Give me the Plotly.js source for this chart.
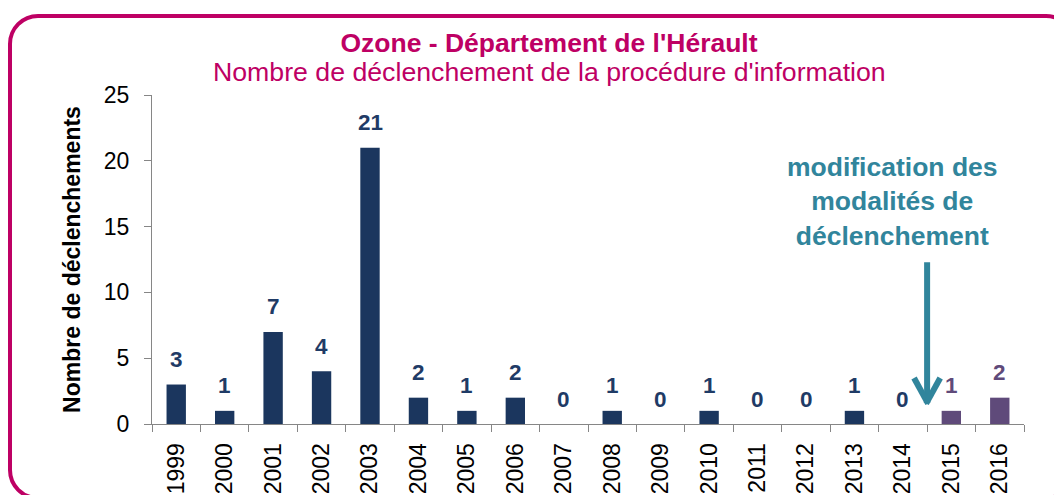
<!DOCTYPE html>
<html>
<head>
<meta charset="utf-8">
<script src="https://cdn.plot.ly/plotly-3.0.1.min.js"></script>
<style>
  html, body { margin:0; padding:0; background:#fff; overflow:hidden; }
  #wrap { position:relative; width:1054px; height:495px; overflow:hidden; }
  #chart { position:absolute; left:0; top:0; width:1054px; height:495px; }
  #frame { position:absolute; left:8px; top:14px; width:1060px; height:478px;
           border:4px solid #BE0064; border-radius:30px; pointer-events:none; }
</style>
</head>
<body>
<div id="wrap">
  <div id="chart"></div>
  <div id="frame"></div>
</div>
<script>
// ---- data ----
const years = ['1999','2000','2001','2002','2003','2004','2005','2006','2007','2008',
               '2009','2010','2011','2012','2013','2014','2015','2016'];
const counts = [3, 1, 7, 4, 21, 2, 1, 2, 0, 1, 0, 1, 0, 0, 1, 0, 1, 2];
const newProcedureYears = ['2015','2016'];

const titleText = "Ozone - Département de l'Hérault";
const subtitleText = "Nombre de déclenchement de la procédure d'information";
const yTitleText = "Nombre de déclenchements";
const noteText = "modification des<br>modalités de<br>déclenchement";

// ---- styles ----
const NAVY = '#1B365E';
const NAVY_TXT = '#1F3B66';
const PURPLE = '#5F4A7A';
const TEAL = '#31859C';
const MAGENTA = '#BE0064';
const FONT = 'Liberation Sans, Arial, sans-serif';

const isNew = years.map(y => newProcedureYears.includes(y));
const barColors = isNew.map(n => n ? PURPLE : NAVY);
const labelColors = isNew.map(n => n ? PURPLE : NAVY_TXT);

const trace = {
  type: 'bar',
  x: years,
  y: counts,
  marker: { color: barColors, line: { width: 0 } },
  hoverinfo: 'x+y'
};

// on a category axis, annotations use the category serial number
const labelAnns = years.map((yr, i) => ({
  x: i, y: counts[i], xref: 'x', yref: 'y',
  text: '<b>' + counts[i] + '</b>',
  showarrow: false, yshift: 25, yanchor: 'middle',
  font: { family: FONT, size: 22.5, color: labelColors[i] }
}));

// arrow between 2014 and 2015 (category boundary)
const boundary = years.indexOf('2015') - 0.5;

const layout = {
  width: 1054, height: 495,
  margin: { l: 152, r: 30, t: 95, b: 71 },
  paper_bgcolor: 'rgba(0,0,0,0)',
  plot_bgcolor: 'rgba(0,0,0,0)',
  showlegend: false,
  bargap: 0.6,
  font: { family: FONT, color: '#000' },
  title: {
    text: '<b>' + titleText + '</b>',
    x: 549/1054, xanchor: 'center', xref: 'container',
    y: 1 - 43/495, yanchor: 'middle', yref: 'container',
    font: { family: FONT, size: 26.5, color: MAGENTA }
  },
  xaxis: {
    type: 'category',
    range: [-0.5, years.length - 0.5],
    tickson: 'boundaries',
    ticks: 'outside', ticklen: 7, tickcolor: '#868686', tickwidth: 1,
    showline: true, linecolor: '#868686', linewidth: 1,
    tickangle: -90,
    ticklabelstandoff: 9,
    tickfont: { family: FONT, size: 23, color: '#000' },
    showgrid: false, zeroline: false,
    fixedrange: true
  },
  yaxis: {
    range: [0, 25], dtick: 5, tick0: 0,
    ticks: 'outside', ticklen: 7, tickcolor: '#868686', tickwidth: 1,
    showline: true, linecolor: '#868686', linewidth: 1,
    ticklabelstandoff: 10,
    tickfont: { family: FONT, size: 23, color: '#000' },
    showgrid: false, zeroline: false,
    title: { text: '<b>' + yTitleText + '</b>', standoff: 16,
             font: { family: FONT, size: 23, color: '#000' } },
    fixedrange: true
  },
  annotations: labelAnns.concat([
    { xref: 'paper', yref: 'paper', x: (549-152)/872, y: 1 + (95-72)/329,
      xanchor: 'center', yanchor: 'middle', showarrow: false,
      text: subtitleText, font: { family: FONT, size: 26.7, color: MAGENTA } },
    { xref: 'x', yref: 'y', x: boundary - 0.71, y: 16.9, xanchor: 'center', yanchor: 'middle',
      showarrow: false, text: '<b>' + noteText + '</b>',
      font: { family: FONT, size: 26.5, color: TEAL } }
  ]),
  shapes: [
    { type: 'line', xref: 'x', yref: 'y', x0: boundary, x1: boundary, y0: 12.3, y1: 1.9,
      line: { color: TEAL, width: 6 } },
    { type: 'line', xref: 'x', yref: 'y', x0: boundary - 0.27, x1: boundary + 0.02, y0: 3.5, y1: 1.55,
      line: { color: TEAL, width: 6 } },
    { type: 'line', xref: 'x', yref: 'y', x0: boundary + 0.27, x1: boundary - 0.02, y0: 3.5, y1: 1.55,
      line: { color: TEAL, width: 6 } }
  ]
};

Plotly.newPlot('chart', [trace], layout, { displayModeBar: false, staticPlot: true });
</script>
</body>
</html>
